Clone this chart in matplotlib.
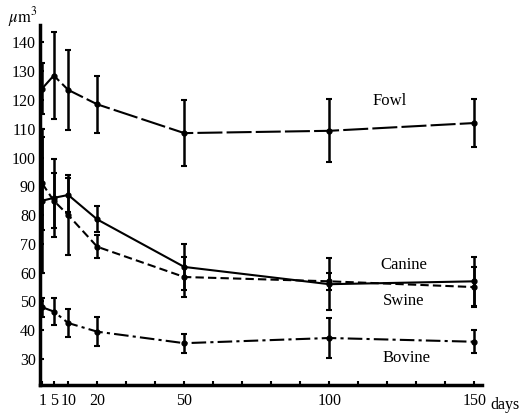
"""Cell volume over time for four species, redrawn from a scanned figure."""

import matplotlib
matplotlib.use("Agg")
import matplotlib.pyplot as plt

plt.rcParams["font.family"] = ["Liberation Serif", "DejaVu Serif"]
plt.rcParams["mathtext.fontset"] = "stix"

# Sampling days (same for every species).
days = [1, 5, 10, 20, 50, 100, 150]

# Mean volume (um^3) and error half-widths.
fowl = [124, 128.5, 123.5, 118.5, 108.5, 109.3, 112]
fowl_err = [9, 15, 14, 10, 11.5, 11, 8.5]

canine = [85, 86, 87, 78.5, 62, 56, 57]
canine_err = [25, 13.5, 6, 4.5, 8, 9, 8.5]

swine = [91, 85, 80, 69, 58.5, 57, 55]
swine_err = [16, 9.5, 14, 4, 7, 3, 7]

bovine = [48, 46.5, 42.5, 39.5, 35.5, 37.3, 36]
bovine_err = [3.3, 4.7, 4.8, 5, 3.3, 6.8, 4]

labels = ["Fowl", "Canine", "Swine", "Bovine"]
label_pos = [(115, 119.5), (117.5, 62.7), (118.5, 50.2), (118.5, 30.4)]

x_labels = [1, 5, 10, 20, 50, 100, 150]
y_ticks = list(range(30, 150, 10))


def draw_series(ax, y, err, dashes):
    line, = ax.plot(days, y, color="black", lw=1.5, marker="o", ms=3.5)
    if dashes is not None:
        line.set_dashes(dashes)
    ax.errorbar(days, y, yerr=err, fmt="none", ecolor="black",
                elinewidth=1.8, capsize=2.5, capthick=1.5)


fig = plt.figure(figsize=(5.28, 4.13), dpi=100)
ax = fig.add_axes([0.076, 0.068, 0.837, 0.871])

draw_series(ax, fowl, fowl_err, (12, 2))
draw_series(ax, canine, canine_err, None)
draw_series(ax, swine, swine_err, (4, 2))
draw_series(ax, bovine, bovine_err, (7, 2, 1.5, 2))

for text, (x, y) in zip(labels, label_pos):
    ax.text(x, y, text, fontsize=12, ha="left", va="center")

ax.set_xlim(0.3, 152.7)
ax.set_ylim(21, 146)

# x ticks every 10 days, labels only on a few of them.
x_ticks = [1, 5] + list(range(10, 151, 10))
ax.set_xticks(x_ticks)
ax.set_xticklabels([str(t) if t in x_labels else "" for t in x_ticks])
ax.set_yticks(y_ticks)

ax.tick_params(direction="in", length=3, width=1.5, labelsize=11.5, pad=6)
ax.tick_params(axis="y", pad=3)

for side in ["top", "right"]:
    ax.spines[side].set_visible(False)
for side in ["left", "bottom"]:
    ax.spines[side].set_linewidth(2.5)

fig.text(0.015, 0.958, "$\\mu\\mathrm{m}^3$", fontsize=12, ha="left", va="center")
fig.text(0.957, 0.02, "days", fontsize=11.5, ha="center", va="center")

fig.savefig("out.png", dpi=100)
